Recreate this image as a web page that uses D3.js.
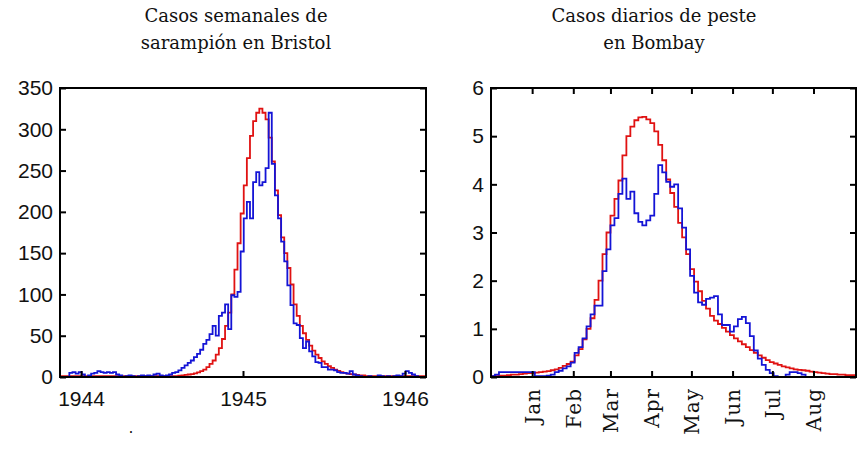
<!DOCTYPE html>
<html>
<head>
<meta charset="utf-8">
<script src="https://cdn.jsdelivr.net/npm/d3@7"></script>
<style>
  body { margin: 0; background: #fff; }
  svg { display: block; }
</style>
</head>
<body>
<svg id="chart" width="868" height="456"></svg>
<script>
// Bristol measles, weekly counts (x in years)
const measlesStart = 1943.87;
const measlesStep = 1 / 52;
const measlesObserved = [
  0, 0, 0, 5, 6, 4, 6, 3, 0, 2,
  4, 5, 7, 6, 5, 6, 5, 6, 3, 2,
  0, 1, 2, 1, 0, 1, 2, 1, 2, 1,
  3, 4, 2, 1, 2, 3, 5, 6, 8, 11,
  14, 17, 20, 24, 28, 33, 40, 45, 52, 62,
  50, 74, 78, 88, 58, 99, 97, 103, 152, 192,
  212, 192, 236, 248, 232, 236, 253, 320, 258, 220,
  192, 164, 140, 111, 87, 65, 63, 47, 35, 43,
  31, 25, 18, 17, 12, 12, 9, 9, 8, 6,
  5, 5, 4, 7, 3, 2, 1, 0, 0, 1,
  0, 0, 2, 1, 0, 1, 0, 1, 2, 1,
  4, 7, 5, 3, 1, 0, 0, 0
];
const measlesModel = [
  1, 1, 1, 1, 1, 1, 1, 1, 1, 1,
  1, 1, 1, 1, 1, 1, 1, 1, 1, 1,
  1, 1, 1, 1, 1, 1, 1, 1, 1, 1,
  1, 1, 1, 1, 1, 1, 1, 1, 1.5, 2,
  2.5, 3, 3.5, 4.5, 5.5, 7, 9, 12, 16, 20,
  27, 35, 46, 62, 78, 100, 130, 162, 198, 232,
  265, 292, 310, 320, 325, 320, 312, 290, 261, 226,
  196, 169, 150, 132, 112, 88, 74, 62, 53, 45,
  38, 32, 27, 23, 19, 16, 13, 11, 9, 7.5,
  6, 5, 4, 3.5, 3, 2.5, 2, 2, 1, 1,
  1, 1, 1, 1, 1, 1, 1, 1, 1, 1,
  1, 1, 1, 1, 1, 1, 1, 1
];
const measlesYTicks = [0, 50, 100, 150, 200, 250, 300, 350];
const measlesXTicks = [1944, 1945, 1946];

// Bombay plague, every 3 days (x in days, 0 = 1 Jan)
const plagueStart = -31;
const plagueStep = 3;
const plagueObserved = [
  0.02, 0.05, 0.1, 0.1, 0.1, 0.1, 0.1, 0.1, 0.1, 0.1, 0.1,
  0.02, 0.02, 0.02, 0.03, 0.05, 0.1, 0.13, 0.18, 0.22, 0.3,
  0.5, 0.62, 0.8, 1.05, 1.3, 1.48, 1.48, 2.2, 2.65, 3.15,
  3.3, 3.8, 4.12, 3.7, 3.85, 3.4, 3.22, 3.15, 3.25, 3.35,
  3.8, 4.4, 4.25, 4.05, 3.95, 4.0, 3.5, 3.1, 2.65, 2.1,
  1.75, 1.55, 1.5, 1.62, 1.65, 1.68, 1.3, 1.08, 1.08, 0.94,
  1.05, 1.2, 1.25, 1.12, 0.85, 0.55, 0.38, 0.25, 0.15, 0.08,
  0.02, 0, 0, 0.05, 0.1, 0.1, 0.08, 0.05, 0
];
const plagueModel = [
  0.02, 0.02, 0.03, 0.03, 0.04, 0.05, 0.05, 0.06, 0.07, 0.08, 0.08,
  0.09, 0.1, 0.11, 0.12, 0.14, 0.16, 0.19, 0.23, 0.27, 0.32,
  0.45, 0.58, 0.78, 1.0, 1.22, 1.6, 2.0, 2.55, 3.0, 3.35,
  3.7, 4.08, 4.6, 5.0, 5.2, 5.33, 5.39, 5.4, 5.35, 5.27,
  5.1, 4.82, 4.5, 4.1, 3.82, 3.53, 3.2, 2.9, 2.55, 2.24,
  1.98, 1.78, 1.58, 1.42, 1.27, 1.17, 1.1, 1.02, 0.94, 0.87,
  0.8, 0.74, 0.68, 0.62, 0.56, 0.5, 0.45, 0.4, 0.35, 0.31,
  0.28, 0.25, 0.22, 0.2, 0.18, 0.16, 0.15, 0.14, 0.13, 0.11,
  0.1, 0.09, 0.08, 0.07, 0.06, 0.06, 0.05, 0.05, 0.04, 0.04, 0.04
];
const plagueYTicks = [0, 1, 2, 3, 4, 5, 6];
const monthDays = [0, 31, 59, 90, 120, 151, 181, 212];
const monthNames = ["Jan", "Feb", "Mar", "Apr", "May", "Jun", "Jul", "Aug"];

const RED = "#e01212";
const BLUE = "#1414d6";
const SERIF = "DejaVu Serif";
const SANS = "Liberation Sans";

const svg = d3.select('#chart');

const toPoints = (vals, start, step) => {
  const pts = vals.map((v, i) => [start + i * step, v]);
  pts.push([start + vals.length * step, vals[vals.length - 1]]);
  return pts;
};

function drawPanel(p) {
  const g = svg.append('g');

  g.append('clipPath').attr('id', p.id)
    .append('rect')
    .attr('x', p.x.range()[0]).attr('y', p.y.range()[1])
    .attr('width', p.x.range()[1] - p.x.range()[0])
    .attr('height', p.y.range()[0] - p.y.range()[1]);

  const line = d3.line()
    .x(d => p.x(d[0]))
    .y(d => p.y(d[1]))
    .curve(d3.curveStepAfter);

  const lines = g.append('g').attr('clip-path', `url(#${p.id})`);
  lines.append('path')
    .attr('d', line(toPoints(p.model, p.start, p.step)))
    .attr('fill', 'none').attr('stroke', RED).attr('stroke-width', 1.8);
  lines.append('path')
    .attr('d', line(toPoints(p.observed, p.start, p.step)))
    .attr('fill', 'none').attr('stroke', BLUE).attr('stroke-width', 1.8);

  const left = p.x.range()[0], right = p.x.range()[1];
  const bottom = p.y.range()[0], top = p.y.range()[1];

  // y axis: labels left, ticks inside on both sides
  const ya = g.append('g').attr('transform', `translate(${left},0)`)
    .call(d3.axisLeft(p.y).tickValues(p.yTicks).tickSizeInner(-6).tickSizeOuter(0)
      .tickPadding(7).tickFormat(d3.format('d')));
  g.append('g').attr('transform', `translate(${right},0)`)
    .call(d3.axisRight(p.y).tickValues(p.yTicks).tickSizeInner(-6).tickSizeOuter(0).tickFormat(''));

  // x axis
  const xa = g.append('g').attr('transform', `translate(0,${bottom})`)
    .call(d3.axisBottom(p.x).tickValues(p.xTicks).tickSizeInner(-6).tickSizeOuter(0)
      .tickFormat(p.xFormat).tickPadding(14));
  if (p.topTicks) {
    g.append('g').attr('transform', `translate(0,${top})`)
      .call(d3.axisTop(p.x).tickValues(p.xTicks).tickSizeInner(-6).tickSizeOuter(0).tickFormat(''));
  }

  g.selectAll('.domain').remove();
  g.selectAll('.tick line').attr('stroke', '#000').attr('stroke-width', 2);
  ya.selectAll('text').attr('font-family', SANS).attr('font-size', 21).attr('fill', '#111');
  xa.selectAll('text').attr('font-family', SANS).attr('font-size', 21).attr('fill', '#111');

  g.append('rect')
    .attr('x', left).attr('y', top)
    .attr('width', right - left).attr('height', bottom - top)
    .attr('fill', 'none').attr('stroke', '#000').attr('stroke-width', 2);

  const title = g.append('text')
    .attr('font-family', SERIF).attr('font-size', 18).attr('fill', '#111')
    .attr('text-anchor', 'middle');
  p.title.forEach((t, i) => {
    title.append('tspan').attr('x', p.titleX).attr('y', 22 + i * 27).text(t);
  });

  return xa;
}

const measlesX = d3.scaleLinear().domain([1943.87, 1946.13]).range([60, 426]);
const measlesY = d3.scaleLinear().domain([0, 350]).range([377, 88]);

drawPanel({
  id: 'clip-measles',
  x: measlesX, y: measlesY,
  start: measlesStart, step: measlesStep,
  observed: measlesObserved, model: measlesModel,
  yTicks: measlesYTicks, xTicks: measlesXTicks,
  xFormat: d3.format('d'),
  topTicks: false,
  title: ["Casos semanales de", "sarampión en Bristol"],
  titleX: 236
});

const plagueX = d3.scaleLinear().domain([-31, 244]).range([491, 856]);
const plagueY = d3.scaleLinear().domain([0, 6]).range([377, 88]);

const plagueAxis = drawPanel({
  id: 'clip-plague',
  x: plagueX, y: plagueY,
  start: plagueStart, step: plagueStep,
  observed: plagueObserved, model: plagueModel,
  yTicks: plagueYTicks, xTicks: monthDays,
  xFormat: (d, i) => monthNames[i],
  topTicks: true,
  title: ["Casos diarios de peste", "en Bombay"],
  titleX: 654
});

// month names are rotated and set in serif
plagueAxis.selectAll('.tick text')
  .attr('font-family', SERIF).attr('font-size', 20)
  .attr('letter-spacing', 1)
  .attr('text-anchor', 'end')
  .attr('transform', 'translate(0,11) rotate(-90)')
  .attr('x', 0).attr('y', 0).attr('dy', '0.35em');

svg.append('text')
  .attr('x', 131).attr('y', 433)
  .attr('font-family', SERIF).attr('font-size', 14).attr('text-anchor', 'middle')
  .text('.');
</script>
</body>
</html>
